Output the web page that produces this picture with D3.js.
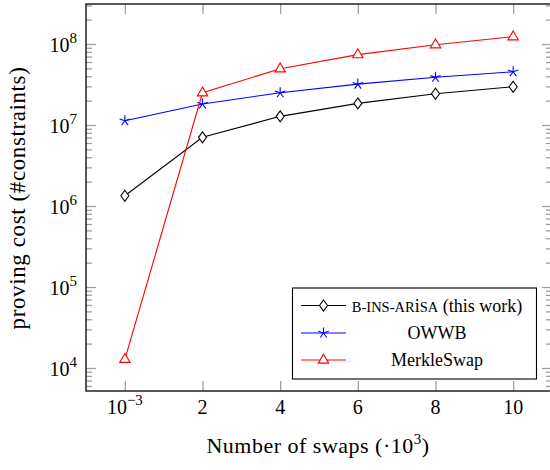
<!DOCTYPE html>
<meta charset="utf-8">
<style>
body { margin: 0; background: #fff; }
text { font-family: "Liberation Serif", "Times New Roman", serif; fill: #000; }
.tick line { stroke: #a0a0a0; stroke-width: 1.3px; }
.domain { display: none; }
.series { fill: none; stroke-width: 1.1px; }
</style>
<body>
<div id="chart"></div>
<script src="https://cdn.jsdelivr.net/npm/d3@7"></script>
<script>

// data
var swaps = [0.001, 2, 4, 6, 8, 10];
var binsArisa = [1.34e6, 7.05e6, 1.28e7, 1.85e7, 2.43e7, 2.97e7];
var owwb = [1.13e7, 1.82e7, 2.5e7, 3.2e7, 3.88e7, 4.55e7];
var merkleSwap = [1.28e4, 2.5e7, 4.95e7, 7.4e7, 9.8e7, 1.23e8];

var xTickValues = [0.001, 2, 4, 6, 8, 10];
var xTickLabels = [["10", "\u22123"], ["2"], ["4"], ["6"], ["8"], ["10"]];
var yMajor = [1e4, 1e5, 1e6, 1e7, 1e8];
var yMajorLabels = ["4", "5", "6", "7", "8"];

var seriesNames = ["B-INS-ARiSA (this work)", "OWWB", "MerkleSwap"];
var seriesColors = ["#000000", "#0000ff", "#ff0000"];
var seriesMarks = ["diamond", "star", "triangle"];
var seriesData = [binsArisa, owwb, merkleSwap];

var svg = d3.select("#chart").append("svg")
    .attr("width", 550)
    .attr("height", 470);

var pLeft = 86, pRight = 552, pTop = 4, pBottom = 391;

var x = d3.scaleLinear()
    .domain([-1, 11])
    .range([pLeft, pRight]);

var y = d3.scaleLog()
    .domain([5200, 3.12e8])
    .range([pBottom, pTop]);

// minor ticks 2..9 per decade
var yMinor = [];
[1e3, 1e4, 1e5, 1e6, 1e7, 1e8].forEach(function(d) {
  for (var k = 2; k <= 9; k++) {
    var v = d * k;
    if (v > y.domain()[0] && v < y.domain()[1]) yMinor.push(v);
  }
});

svg.append("rect")
    .attr("x", pLeft)
    .attr("y", pTop)
    .attr("width", pRight - pLeft)
    .attr("height", pBottom - pTop)
    .attr("fill", "#fff");

// ticks, all pointing inside
svg.append("g")
    .attr("transform", "translate(0," + pBottom + ")")
    .call(d3.axisBottom(x).tickValues(xTickValues).tickSize(-10).tickFormat(""));
svg.append("g")
    .attr("transform", "translate(0," + pTop + ")")
    .call(d3.axisTop(x).tickValues(xTickValues).tickSize(-10).tickFormat(""));
svg.append("g")
    .attr("transform", "translate(" + pLeft + ",0)")
    .call(d3.axisLeft(y).tickValues(yMajor).tickSize(-10).tickFormat(""));
svg.append("g")
    .attr("transform", "translate(" + pLeft + ",0)")
    .call(d3.axisLeft(y).tickValues(yMinor).tickSize(-6).tickFormat(""));
svg.append("g")
    .attr("transform", "translate(" + pRight + ",0)")
    .call(d3.axisRight(y).tickValues(yMajor).tickSize(-10).tickFormat(""));
svg.append("g")
    .attr("transform", "translate(" + pRight + ",0)")
    .call(d3.axisRight(y).tickValues(yMinor).tickSize(-6).tickFormat(""));

svg.append("rect")
    .attr("x", pLeft)
    .attr("y", pTop)
    .attr("width", pRight - pLeft)
    .attr("height", pBottom - pTop)
    .attr("fill", "none")
    .attr("stroke", "#000")
    .attr("stroke-width", 1.3);

// tick labels
var xl = svg.selectAll(".xlab")
    .data(xTickValues)
  .enter().append("text")
    .attr("class", "xlab")
    .attr("x", function(d) { return x(d); })
    .attr("y", 414)
    .attr("text-anchor", "middle")
    .style("font-size", "20px");
xl.append("tspan").text(function(d, i) { return xTickLabels[i][0]; });
xl.filter(function(d, i) { return xTickLabels[i].length > 1; })
  .append("tspan")
    .attr("dy", -9)
    .style("font-size", "15px")
    .text(function(d, i) { return xTickLabels[i][1]; });

var yl = svg.selectAll(".ylab")
    .data(yMajor)
  .enter().append("text")
    .attr("class", "ylab")
    .attr("x", 77)
    .attr("y", function(d) { return y(d) + 8; })
    .attr("text-anchor", "end")
    .style("font-size", "20px");
yl.append("tspan").text("10");
yl.append("tspan")
    .attr("dy", -9)
    .style("font-size", "15px")
    .text(function(d, i) { return yMajorLabels[i]; });

// axis titles
var xt = svg.append("text")
    .attr("x", 318)
    .attr("y", 453)
    .attr("text-anchor", "middle")
    .style("font-size", "22px")
    .style("letter-spacing", "0.5px");
xt.append("tspan").text("Number of swaps (\u00b710");
xt.append("tspan").attr("dy", -9).style("font-size", "15px").text("3");
xt.append("tspan").attr("dy", 9).text(")");

svg.append("text")
    .attr("transform", "translate(25,198) rotate(-90)")
    .attr("text-anchor", "middle")
    .style("font-size", "23px")
    .style("letter-spacing", "0.6px")
    .text("proving cost (#constraints)");

// markers
function drawMark(g, type, color) {
  if (type === "diamond") {
    g.append("path")
      .attr("d", "M0,-5.5L4,0L0,5.5L-4,0Z")
      .attr("fill", "#fff")
      .attr("stroke", color)
      .attr("stroke-width", 1.1);
  } else if (type === "triangle") {
    g.append("path")
      .attr("d", "M0,-5.8L5.2,3.1L-5.2,3.1Z")
      .attr("fill", "#fff")
      .attr("stroke", color)
      .attr("stroke-width", 1.1);
  } else {
    d3.range(5).forEach(function(k) {
      var a = -Math.PI / 2 + k * 2 * Math.PI / 5;
      g.append("line")
        .attr("x1", 0).attr("y1", 0)
        .attr("x2", 5.5 * Math.cos(a)).attr("y2", 5.5 * Math.sin(a))
        .attr("stroke", color)
        .attr("stroke-width", 1.1);
    });
  }
}

var line = d3.line()
    .x(function(d, i) { return x(swaps[i]); })
    .y(function(d) { return y(d); });

seriesData.forEach(function(vals, s) {
  svg.append("path")
      .datum(vals)
      .attr("class", "series")
      .attr("stroke", seriesColors[s])
      .attr("d", line);
  vals.forEach(function(v, i) {
    var g = svg.append("g")
        .attr("transform", "translate(" + x(swaps[i]) + "," + y(v) + ")");
    drawMark(g, seriesMarks[s], seriesColors[s]);
  });
});

// legend
var lg = svg.append("g");
lg.append("rect")
    .attr("x", 292.5)
    .attr("y", 288)
    .attr("width", 244)
    .attr("height", 91)
    .attr("fill", "#fff")
    .attr("stroke", "#000")
    .attr("stroke-width", 1.1);

var rowY = [305.5, 333, 360];
seriesNames.forEach(function(name, s) {
  lg.append("line")
      .attr("x1", 301).attr("x2", 346)
      .attr("y1", rowY[s]).attr("y2", rowY[s])
      .attr("stroke", seriesColors[s])
      .attr("stroke-width", 1.1);
  var g = lg.append("g").attr("transform", "translate(323.5," + rowY[s] + ")");
  drawMark(g, seriesMarks[s], seriesColors[s]);
  var t = lg.append("text")
      .attr("x", 437)
      .attr("y", rowY[s] + 6)
      .attr("text-anchor", "middle")
      .style("font-size", "18px");
  if (s === 0) {
    t.append("tspan").style("font-size", "14.5px").text("B-INS-AR");
    t.append("tspan").text("i");
    t.append("tspan").style("font-size", "14.5px").text("SA");
    t.append("tspan").text(" (this work)");
  } else {
    t.text(name);
  }
});

</script>
</body>
